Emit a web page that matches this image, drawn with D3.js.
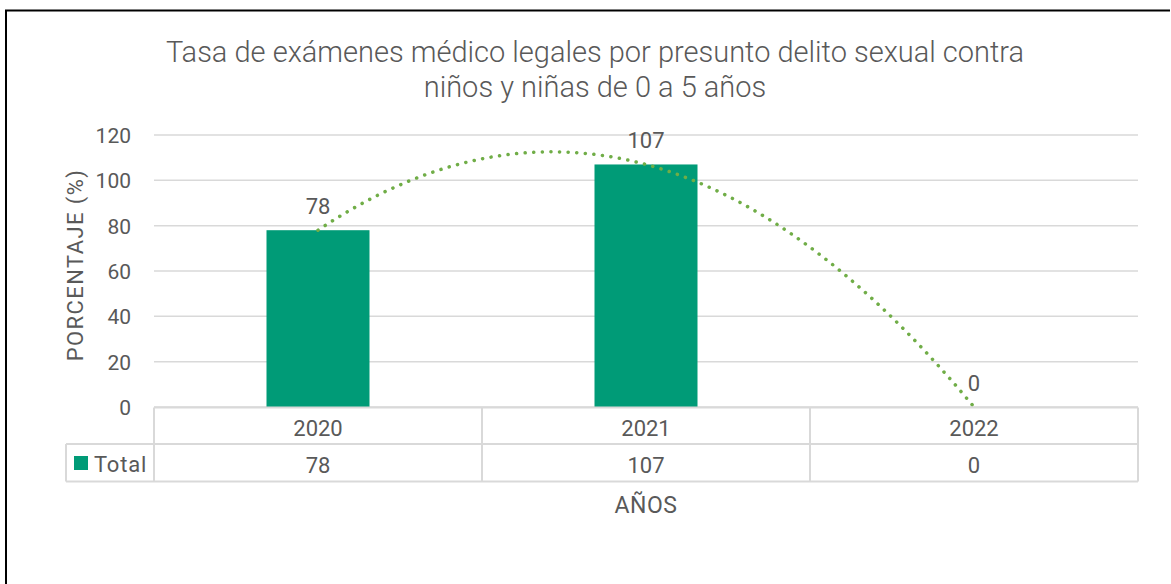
<!DOCTYPE html>
<html lang="es">
<head>
<meta charset="UTF-8">
<title>Tasa de exámenes médico legales</title>
<script src="https://d3js.org/d3.v7.min.js"></script>
<style>
  body { margin: 0; background: #fff; }
  text { font-family: Roboto, "Open Sans", sans-serif; fill: #595959; }
</style>
</head>
<body>
<div id="chart"></div>
<script>
// data
const years = ["2020", "2021", "2022"];
const totals = [78, 107, 0];
const yTicks = [0, 20, 40, 60, 80, 100, 120];
const seriesName = "Total";

const W = 1171, H = 584;
const margin = { top: 135, right: 33, bottom: 177, left: 154 };
const width = W - margin.left - margin.right;
const height = 407 - margin.top;

const svg = d3.select("#chart").append("svg")
    .attr("width", W).attr("height", H);

// outer frame (top + left only visible)
svg.append("path")
    .attr("d", "M6,584 L6,10.5 L1170,10.5")
    .attr("fill", "none").attr("stroke", "#000").attr("stroke-width", 2);

const g = svg.append("g").attr("transform", "translate(" + margin.left + "," + margin.top + ")");

const x = d3.scaleBand().domain(years).range([0, width]).paddingInner(0).paddingOuter(0);
const y = d3.scaleLinear().domain([0, 120]).range([height, 0]);

// gridlines
g.selectAll(".grid").data(yTicks).enter().append("line")
    .attr("x1", 0).attr("x2", width)
    .attr("y1", d => y(d)).attr("y2", d => y(d))
    .attr("stroke", "#d9d9d9").attr("stroke-width", 1.5);

// y axis labels
const yAxis = g.append("g").call(d3.axisLeft(y).tickValues(yTicks).tickSize(0).tickPadding(23));
yAxis.select(".domain").remove();
yAxis.selectAll("text").style("font-size", "21px").attr("fill", "#595959")
    .style("font-family", "Roboto, sans-serif").attr("dy", "0.36em");

// bars
const barW = 103;
g.selectAll(".bar").data(totals).enter().append("rect")
    .attr("x", (d, i) => x(years[i]) + x.bandwidth() / 2 - barW / 2)
    .attr("y", d => y(d))
    .attr("width", barW)
    .attr("height", d => height - y(d))
    .attr("fill", "#009B77");

// quadratic trendline fitted to the data
function polyFit2(xs, ys) {
  // least squares for y = a x^2 + b x + c
  let n = xs.length, s = [0,0,0,0,0], t = [0,0,0];
  for (let i = 0; i < n; i++) {
    let p = 1;
    for (let k = 0; k < 5; k++) { s[k] += p; p *= xs[i]; }
    p = 1;
    for (let k = 0; k < 3; k++) { t[k] += ys[i] * p; p *= xs[i]; }
  }
  const M = [[s[4], s[3], s[2], t[2]], [s[3], s[2], s[1], t[1]], [s[2], s[1], s[0], t[0]]];
  for (let i = 0; i < 3; i++) {
    for (let j = i + 1; j < 3; j++) {
      const f = M[j][i] / M[i][i];
      for (let k = i; k < 4; k++) M[j][k] -= f * M[i][k];
    }
  }
  const r = [0,0,0];
  for (let i = 2; i >= 0; i--) {
    let v = M[i][3];
    for (let k = i + 1; k < 3; k++) v -= M[i][k] * r[k];
    r[i] = v / M[i][i];
  }
  return r;
}
const idx = totals.map((d, i) => i);
const coef = polyFit2(idx, totals);
const trend = d3.range(0, 2.0001, 0.02).map(t => [t, coef[0]*t*t + coef[1]*t + coef[2]]);
const xi = d3.scaleLinear().domain([0, 2]).range([x(years[0]) + x.bandwidth()/2, x(years[2]) + x.bandwidth()/2]);
g.append("path")
    .datum(trend)
    .attr("d", d3.line().x(d => xi(d[0])).y(d => y(d[1])).curve(d3.curveLinear))
    .attr("fill", "none")
    .attr("stroke", "#70AD47")
    .attr("stroke-width", 3.5)
    .attr("stroke-linecap", "round")
    .attr("stroke-dasharray", "0.1 8.5");

// data labels
g.selectAll(".lbl").data(totals).enter().append("text")
    .attr("x", (d, i) => x(years[i]) + x.bandwidth() / 2)
    .attr("y", d => y(d) - 16)
    .attr("text-anchor", "middle")
    .style("font-size", "22px")
    .text(d => d);

// data table
const tbl = svg.append("g").attr("class", "table");
const rowTop = 407.5, rowMid = 444, rowBot = 481.5, legLeft = 66;
const gridC = "#d9d9d9";
const xl = margin.left, xr = margin.left + width;
function ln(x1, y1, x2, y2) {
  tbl.append("line").attr("x1", x1).attr("y1", y1).attr("x2", x2).attr("y2", y2)
     .attr("stroke", gridC).attr("stroke-width", 2);
}
ln(xl, rowTop, xr, rowTop);
ln(legLeft, rowMid, xr, rowMid);
ln(legLeft, rowBot, xr, rowBot);
ln(legLeft, rowMid, legLeft, rowBot);
years.forEach((yr, i) => ln(xl + x(yr), rowTop, xl + x(yr), rowBot));
ln(xr, rowTop, xr, rowBot);

tbl.selectAll(".yr").data(years).enter().append("text")
    .attr("x", d => xl + x(d) + x.bandwidth() / 2)
    .attr("y", 436)
    .attr("text-anchor", "middle").style("font-size", "22px")
    .text(d => d);
tbl.selectAll(".val").data(totals).enter().append("text")
    .attr("x", (d, i) => xl + x(years[i]) + x.bandwidth() / 2)
    .attr("y", 473)
    .attr("text-anchor", "middle").style("font-size", "22px")
    .text(d => d);
tbl.append("rect").attr("x", 74).attr("y", 456).attr("width", 14).attr("height", 14).attr("fill", "#009B77");
tbl.append("text").attr("x", 94).attr("y", 472).style("font-size", "22px")
    .style("letter-spacing", "0.8px").text(seriesName);

// titles
const title = svg.append("text").attr("text-anchor", "middle").style("font-size", "29px").style("font-weight", 300);
title.append("tspan").attr("x", 595).attr("y", 62).text("Tasa de exámenes médico legales por presunto delito sexual contra");
title.append("tspan").attr("x", 595).attr("y", 97).text("niños y niñas de 0 a 5 años");

svg.append("text")
    .attr("transform", "translate(83,265) rotate(-90)")
    .attr("text-anchor", "middle").style("font-size", "22px")
    .style("letter-spacing", "1.4px")
    .text("PORCENTAJE (%)");

svg.append("text")
    .attr("x", xl + width / 2).attr("y", 513)
    .attr("text-anchor", "middle").style("font-size", "23px")
    .style("letter-spacing", "0.5px")
    .text("AÑOS");
</script>
</body>
</html>
